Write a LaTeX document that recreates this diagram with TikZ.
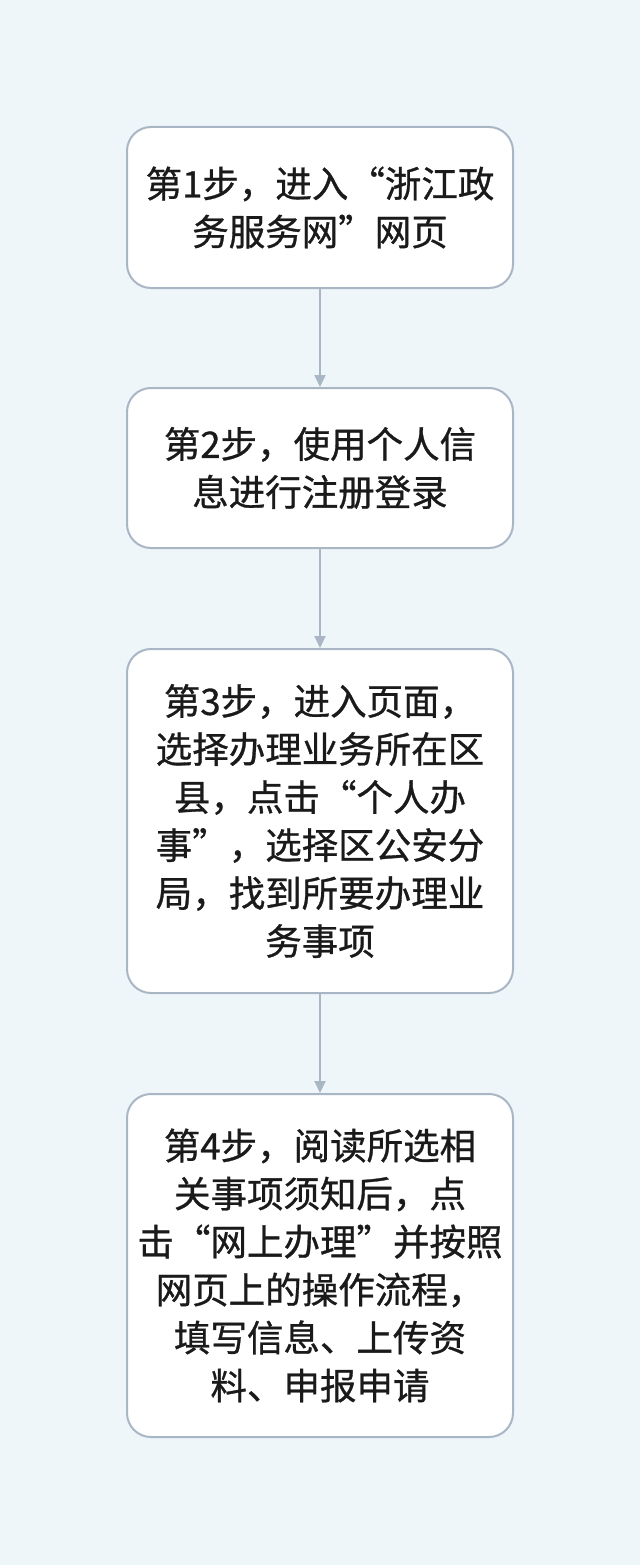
\documentclass[tikz,border=0pt]{standalone}
\usepackage{fontspec}
\newfontfamily\cjk[FakeBold=0.8]{Noto Sans CJK SC}
\usetikzlibrary{arrows.meta}
\definecolor{bg}{HTML}{EEF6FA}
\definecolor{bd}{HTML}{A9B6C6}
\definecolor{tx}{HTML}{1A1A1A}
\tikzset{
  stepbox/.style={draw=bd,line width=2pt,fill=white,rounded corners=24pt,minimum width=386pt,align=center,font=\cjk\fontsize{36.5pt}{48pt}\selectfont,text=tx,inner sep=0pt},
  conn/.style={draw=bd,line width=2pt,-{Triangle[length=12pt,width=11pt]}}
}
\begin{document}
\begin{tikzpicture}[x=1pt,y=1pt]
\fill[bg] (0,0) rectangle (640,-1565);
\useasboundingbox (0,0) rectangle (640,-1565);
\node[stepbox,minimum height=161pt] (a) at (320,-207.5) {第1步，进入“浙江政\\务服务网”网页};
\node[stepbox,minimum height=160pt] (b) at (320,-468) {第2步，使用个人信\\息进行注册登录};
\node[stepbox,minimum height=344pt] (c) at (320,-821) {第3步，进入页面，\\选择办理业务所在区\\县，点击“个人办\\事”，选择区公安分\\局，找到所要办理业\\务事项};
\node[stepbox,minimum height=343pt] (d) at (320,-1265.5) {第4步，阅读所选相\\关事项须知后，点\\击“网上办理”并按照\\网页上的操作流程，\\填写信息、上传资\\料、申报申请};
\draw[conn] (a) -- (b);
\draw[conn] (b) -- (c);
\draw[conn] (c) -- (d);
\end{tikzpicture}
\end{document}
